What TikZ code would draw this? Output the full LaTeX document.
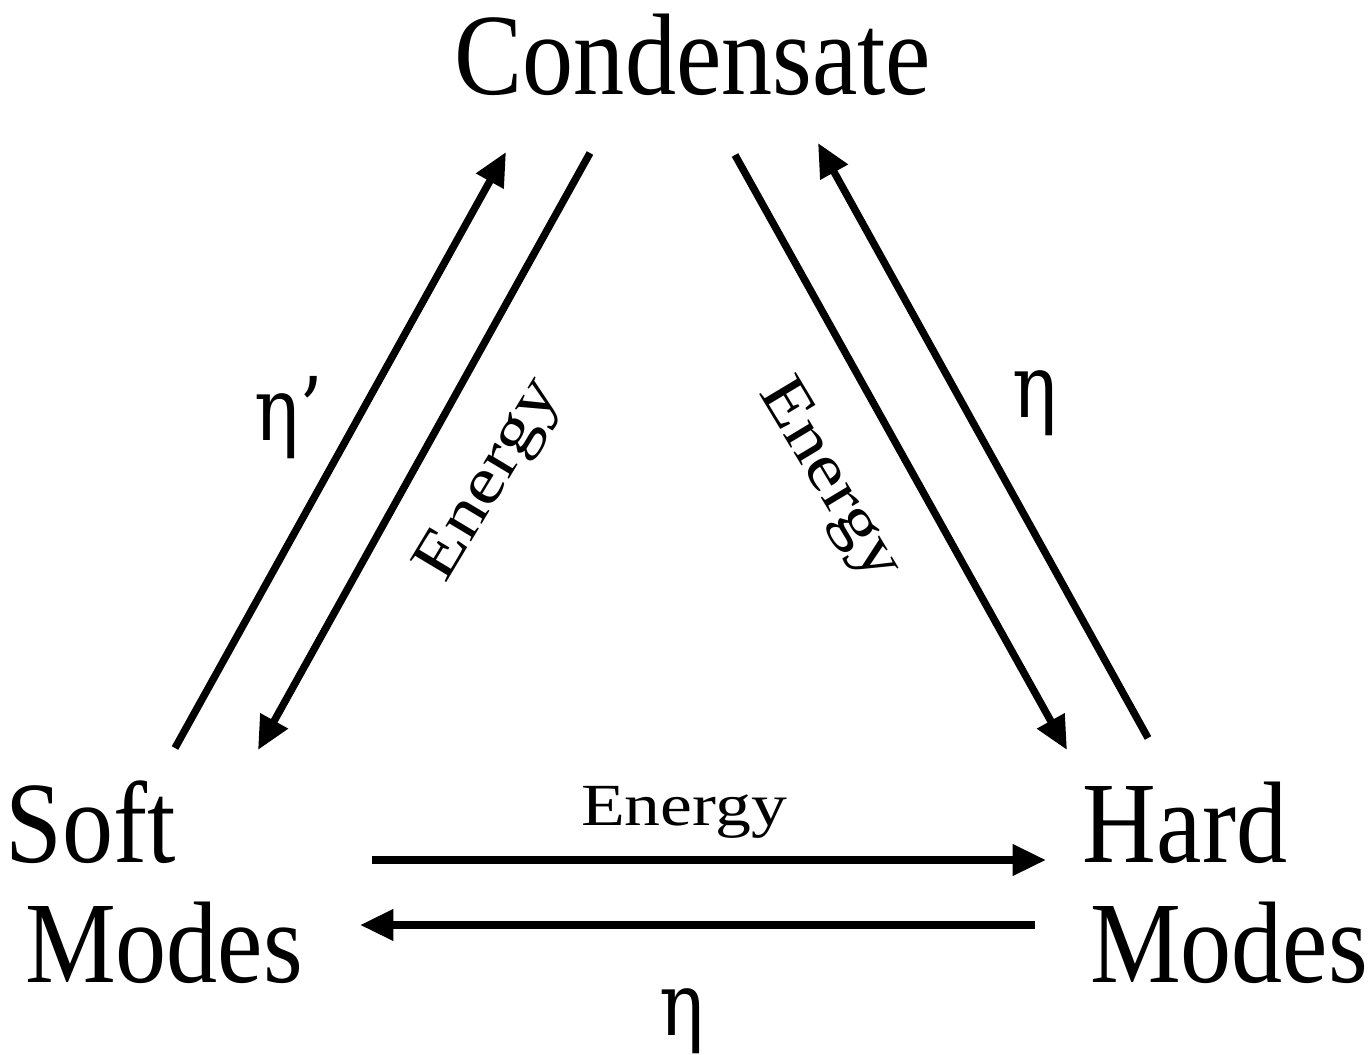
\documentclass[tikz,border=0pt]{standalone}
\usepackage{fontspec}
\usepackage{tikz}
\usetikzlibrary{arrows.meta}
\setmainfont{Liberation Serif}
\newfontfamily\grk{DejaVu Serif}

\begin{document}
\begin{tikzpicture}[x=0.01cm, y=-0.01cm,
    arr/.style={line width=2.1pt, -{Triangle[length=9.5pt, width=8.5pt]}},
    big/.style={font=\fontsize{33}{33}\selectfont, inner sep=0, xscale=0.88},
    small/.style={font=\fontsize{17}{17}\selectfont, inner sep=0, xscale=1.2},
    tilted/.style={small, font=\fontsize{18.5}{18.5}\selectfont},
    greek/.style={font=\grk\fontsize{25}{25}\selectfont, inner sep=0, xscale=0.85}]
    \useasboundingbox (0, 0) rectangle (1369, 1054);
    \node[big, anchor=base] (cond) at (693, 94) {Condensate};
    \node[big, anchor=base] (soft) at (91, 862) {Soft};
    \node[big, anchor=base] (softm) at (164, 982) {Modes};
    \node[big, anchor=base] (hard) at (1185, 862) {Hard};
    \node[big, anchor=base] (hardm) at (1229, 982) {Modes};
    % ends of the arrows
    \coordinate (a1) at (175, 748);
    \coordinate (a2) at (506, 152);
    \coordinate (b1) at (590, 153);
    \coordinate (b2) at (258, 750);
    \coordinate (c1) at (735, 155);
    \coordinate (c2) at (1067, 750);
    \coordinate (d1) at (1148, 738);
    \coordinate (d2) at (818, 143);
    \coordinate (e1) at (372, 860);
    \coordinate (e2) at (1046, 860);
    \coordinate (f1) at (1035, 925);
    \coordinate (f2) at (360, 925);
    \draw[arr] (a1) -- (a2);
    \draw[arr] (b1) -- (b2);
    \draw[arr] (c1) -- (c2);
    \draw[arr] (d1) -- (d2);
    \draw[arr] (e1) -- (e2);
    \draw[arr] (f1) -- (f2);
    % labels
    \node[greek, anchor=base] (etap) at (289, 440) {η’};
    \node[rotate=59, tilted] (en1) at (491, 481) {Energy};
    \node[rotate=-59, tilted] (en2) at (828, 481) {Energy};
    \node[greek, anchor=base] (eta1) at (1035, 417) {η};
    \node[small, anchor=base] (en3) at (684, 825) {Energy};
    \node[greek, anchor=base] (eta2) at (682, 1035) {η};
\end{tikzpicture}
\end{document}
